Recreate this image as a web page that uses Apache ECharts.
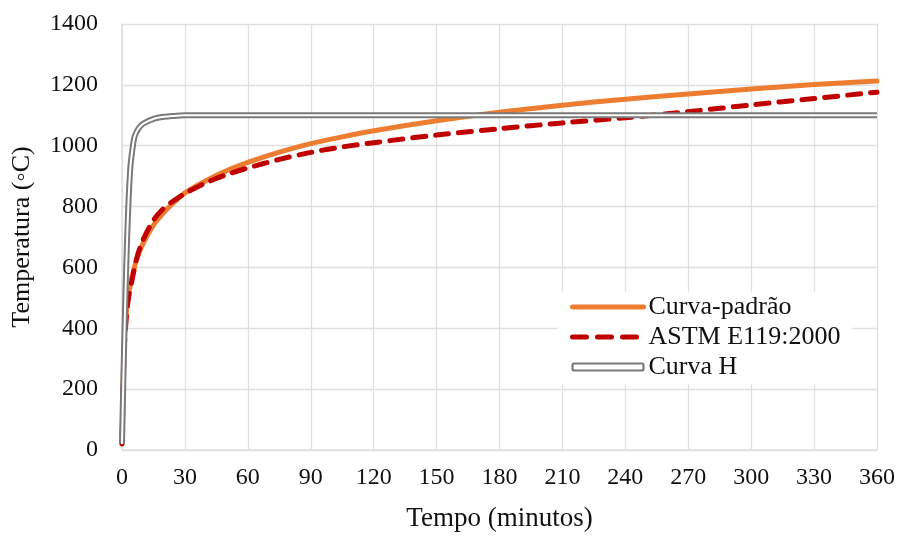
<!DOCTYPE html>
<html>
<head>
<meta charset="utf-8">
<script src="https://cdn.jsdelivr.net/npm/echarts@6/dist/echarts.min.js"></script>
<style>
  html, body { margin: 0; padding: 0; background: #fff; }
  #chart { width: 900px; height: 537px; }
</style>
</head>
<body>
<div id="chart"></div>
<script>
// curva-padrao (ISO 834)
const isoTime = [0, 1, 2, 3, 4, 5, 7, 10, 15, 20, 25, 30, 40, 50, 60, 75, 90, 105, 120, 150, 180, 210, 240, 270, 300, 330, 360];
const isoTemp = [20, 349, 445, 502, 544, 576, 626, 678, 739, 781, 815, 845, 885, 918, 945, 979, 1007, 1029, 1049, 1082, 1110, 1133, 1153, 1170, 1186, 1201, 1213];

// ASTM E119:2000
const astmTime = [0, 1, 2, 3, 5, 7, 10, 15, 20, 25, 30, 40, 50, 60, 75, 90, 105, 120, 150, 180, 210, 240, 270, 300, 330, 360];
const astmTemp = [20, 320, 430, 495, 565, 630, 690, 755, 795, 821, 843, 878, 905, 927, 955, 978, 996, 1010, 1035, 1056, 1075, 1092, 1112, 1134, 1155, 1176];

// curva H (hidrocarbonetos)
const hTime = [0, 1, 2, 3, 4, 5, 6, 8, 10, 15, 20, 25, 30, 45, 60, 120, 180, 240, 300, 360];
const hTemp = [20, 340, 600, 800, 930, 990, 1030, 1058, 1072, 1088, 1095, 1098, 1100, 1100, 1100, 1100, 1100, 1100, 1100, 1100];

const xTicks = { min: 0, max: 360, interval: 30 };
const yTicks = { min: 0, max: 1400, interval: 200 };

function pairs(t, v) {
    return t.map((x, i) => [x, v[i]]);
}

const font = '"Liberation Serif", "Times New Roman", serif';
const gridColor = '#e0e0e0';

let myChart = echarts.init(document.getElementById('chart'));
myChart.setOption({
    animation: false,
    textStyle: { fontFamily: font },
    grid: { left: 122, right: 23, top: 24, bottom: 84 },
    xAxis: {
        type: 'value',
        min: xTicks.min, max: xTicks.max, interval: xTicks.interval,
        name: 'Tempo (minutos)',
        nameLocation: 'middle',
        nameGap: 55,
        nameTextStyle: { fontFamily: font, fontSize: 27, color: '#111' },
        axisLine: { lineStyle: { color: gridColor, width: 1.5 } },
        axisTick: { show: false },
        axisLabel: { fontFamily: font, fontSize: 24, color: '#111', margin: 16,
                     formatter: v => String(v) },
        splitLine: { show: true, lineStyle: { color: gridColor, width: 1.3 } }
    },
    yAxis: {
        type: 'value',
        min: yTicks.min, max: yTicks.max, interval: yTicks.interval,
        name: 'Temperatura (◦C)',
        nameLocation: 'middle',
        nameGap: 87,
        nameTextStyle: { fontFamily: font, fontSize: 26, color: '#111' },
        axisLine: { show: true, lineStyle: { color: gridColor, width: 1.5 } },
        axisTick: { show: false },
        axisLabel: { fontFamily: font, fontSize: 24, color: '#111', margin: 24,
                     formatter: v => String(v) },
        splitLine: { show: true, lineStyle: { color: gridColor, width: 1.3 } }
    },
    legend: {
        orient: 'vertical',
        left: 558,
        top: 292,
        padding: [2, 12, 4, 12],
        backgroundColor: '#fff',
        itemWidth: 71,
        itemHeight: 7,
        itemGap: 4,
        textStyle: { fontFamily: font, fontSize: 26, color: '#111' },
        data: [
            { name: 'Curva-padrão', itemStyle: { opacity: 0 },
              lineStyle: { width: 5, cap: 'round' } },
            { name: 'ASTM E119:2000', itemStyle: { opacity: 0 },
              lineStyle: { width: 5, cap: 'round', type: [14, 11] } },
            { name: 'Curva H', icon: 'roundRect',
              itemStyle: { color: '#fff', borderColor: '#7a7a7a', borderWidth: 2.2 } }
        ]
    },
    series: [
        {
            name: 'Curva-padrão',
            type: 'line',
            data: pairs(isoTime, isoTemp),
            symbol: 'none',
            smooth: 0.3,
            color: '#ED7D31',
            lineStyle: { color: '#ED7D31', width: 5, cap: 'round' },
            z: 2
        },
        {
            name: 'ASTM E119:2000',
            type: 'line',
            data: pairs(astmTime, astmTemp),
            symbol: 'none',
            smooth: 0.3,
            color: '#C00000',
            lineStyle: { color: '#C00000', width: 5, type: [13, 10], cap: 'round' },
            z: 3
        },
        {
            name: 'Curva H',
            type: 'line',
            data: pairs(hTime, hTemp),
            symbol: 'none',
            smooth: 0.3,
            color: '#7a7a7a',
            lineStyle: { color: '#7a7a7a', width: 6 },
            z: 4
        },
        {
            name: 'Curva H (interior)',
            type: 'line',
            data: pairs(hTime, hTemp),
            symbol: 'none',
            smooth: 0.3,
            color: '#fff',
            lineStyle: { color: '#fff', width: 2 },
            z: 5
        }
    ]
});
</script>
</body>
</html>
